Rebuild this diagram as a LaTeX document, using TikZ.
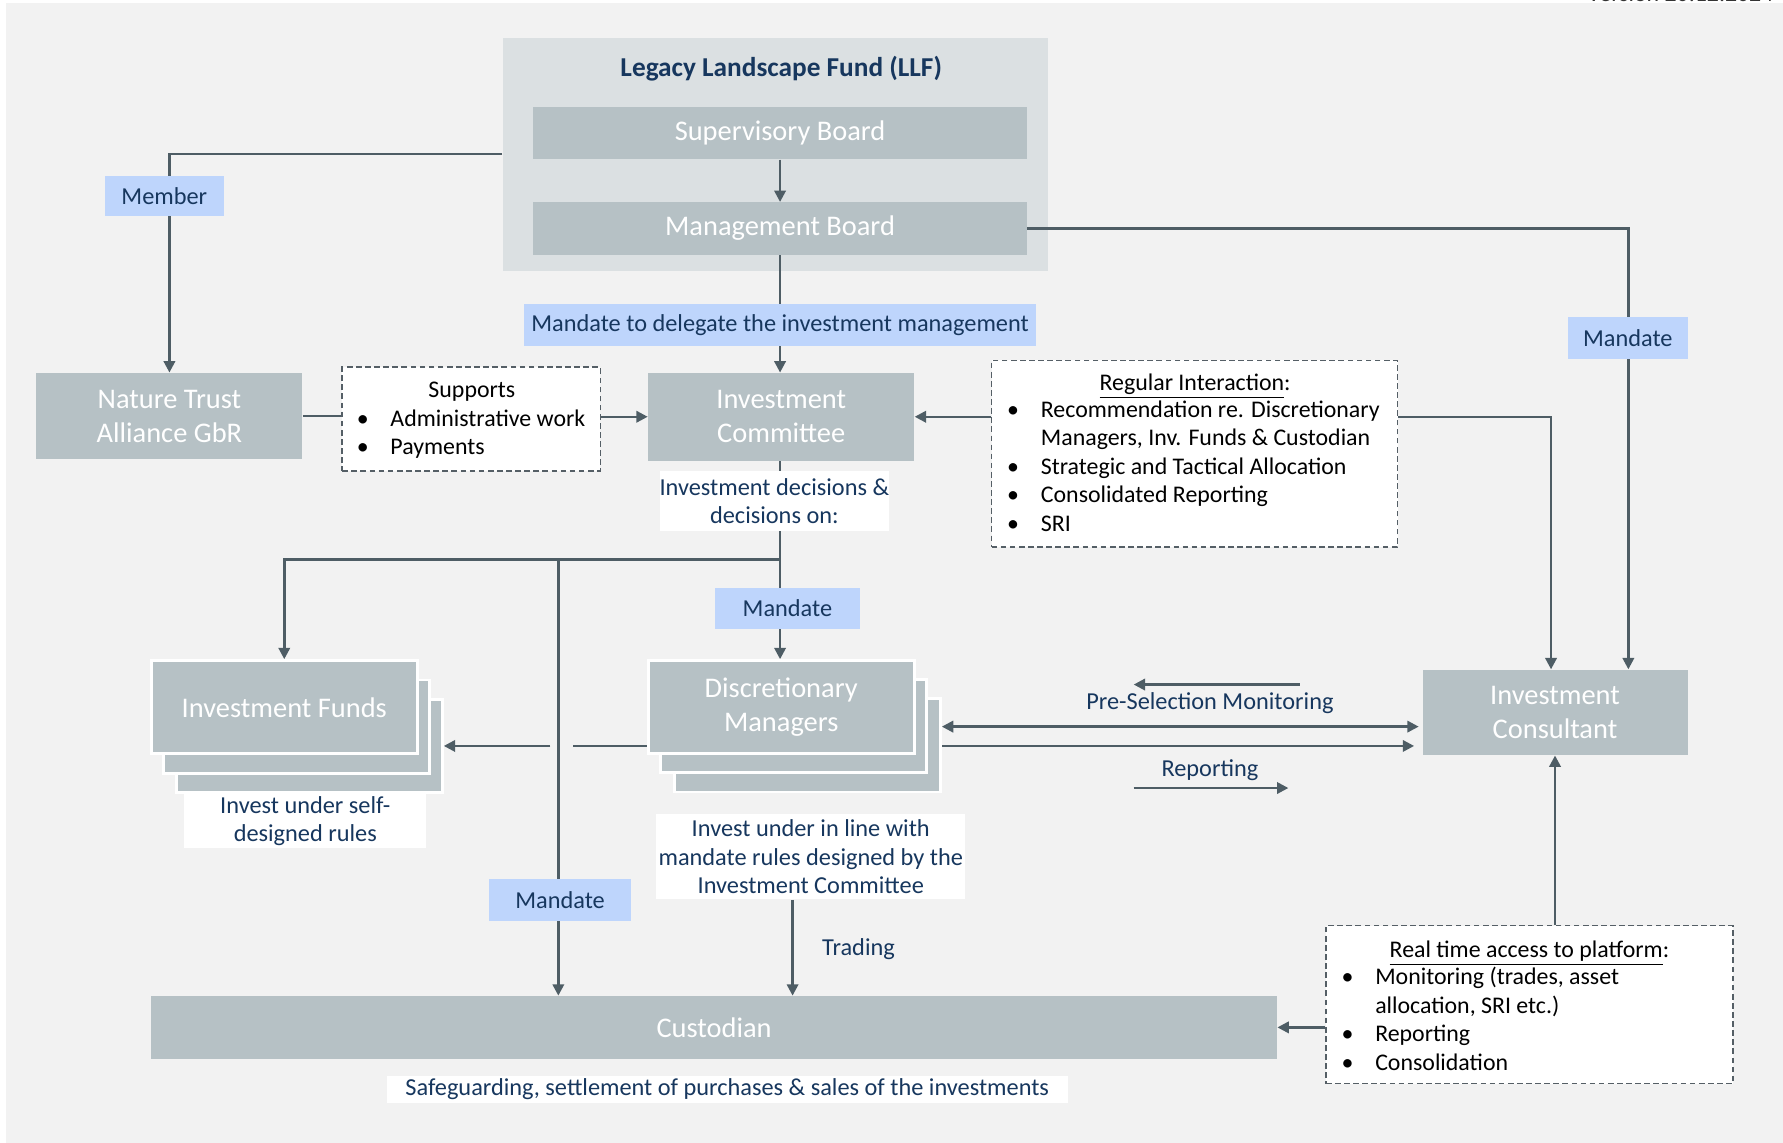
\documentclass[tikz,border=0pt]{standalone}
\usepackage{fontspec}
\setmainfont{Carlito}
\usetikzlibrary{arrows.meta,calc}
\definecolor{bgc}{HTML}{F2F2F2}
\definecolor{llfc}{HTML}{DBE0E2}
\definecolor{boxc}{HTML}{B6C1C5}
\definecolor{lblc}{HTML}{BED5FC}
\definecolor{txtc}{HTML}{17375E}
\definecolor{linec}{HTML}{4E5D65}
\definecolor{dashc}{HTML}{555F66}
\pgfdeclarelayer{bottom}
\pgfdeclarelayer{lines}
\pgfsetlayers{bottom,lines,main}
\tikzset{
  nbox/.style={fill=boxc, text=white, font=\fontsize{12.5}{15}\selectfont, align=center, inner sep=0pt},
  sbox/.style={nbox, draw=white, line width=1.3pt},
  lbl/.style={fill=lblc, text=txtc, font=\fontsize{10.7}{12.5}\selectfont, align=center, inner sep=0pt},
  wlbl/.style={fill=white, text=txtc, font=\fontsize{10.7}{12.5}\selectfont, align=center, inner sep=0pt},
  dbox/.style={fill=white, draw=dashc, dash pattern=on 2.5pt off 1.5pt, line width=0.7pt, inner sep=0pt},
  dtxt/.style={text=black, font=\fontsize{10.5}{12.5}\selectfont, inner sep=0pt, anchor=base west},
  dbul/.style={text=black, font=\fontsize{10.5}{12.5}\selectfont, inner sep=0pt, anchor=base},
  dttl/.style={text=black, font=\fontsize{10.5}{12.5}\selectfont, inner sep=0pt, anchor=base},
  conn/.style={draw=linec, line width=1.1pt},
  arr/.style={conn, -{Triangle[length=5pt,width=5pt]}},
  darr/.style={conn, {Triangle[length=5pt,width=5pt]}-{Triangle[length=5pt,width=5pt]}},
  btxt/.style={text=txtc, font=\fontsize{10.7}{12.5}\selectfont, inner sep=0pt}
}
\begin{document}
\begin{tikzpicture}[x=0.5pt,y=-0.5pt]
\useasboundingbox (0,0) rectangle (1568,1005);
\begin{pgfonlayer}{bottom}
\fill[white] (0,0) rectangle (1568,1005);
\fill[bgc] (5,3) rectangle (1568,1005);
\begin{scope}
\clip (0,0) rectangle (1568,1005);
\node[anchor=base east, text=black!80, font=\fontsize{10.5}{12.5}\selectfont, inner sep=0pt] (ver) at (1560,1) {Version 20.12.2024};
\end{scope}
\node[fill=llfc, minimum width=240pt, minimum height=102.5pt, inner sep=0pt] (llf) at (682,135.5) {};
\end{pgfonlayer}

% title
\node[text=txtc, font=\bfseries\fontsize{12}{14}\selectfont, inner sep=0pt] (ttl) at (687,60) {Legacy Landscape Fund (LLF)};

% main boxes
\node[nbox, minimum width=217pt, minimum height=23pt] (sb) at (686,117) {Supervisory Board};
\node[nbox, minimum width=217pt, minimum height=23pt] (mb) at (686,201) {Management Board};
\node[nbox, minimum width=117pt, minimum height=38pt] (nt) at (149,366) {Nature Trust\\Alliance GbR};
\node[nbox, minimum width=117pt, minimum height=38.5pt] (ic) at (687,366.5) {Investment\\Committee};
\node[nbox, minimum width=116.5pt, minimum height=37.5pt] (icons) at (1367.5,626.5) {Investment\\Consultant};
\node[nbox, minimum width=495pt, minimum height=27.5pt] (cust) at (628,903.5) {Custodian};

% stacked boxes: investment funds
\node[sbox, minimum width=117pt, minimum height=41pt] (if3) at (272,656) {};
\node[sbox, minimum width=117pt, minimum height=41pt] (if2) at (261,639) {};
\node[sbox, minimum width=117pt, minimum height=41pt] (if) at (250,622) {Investment Funds};
% stacked boxes: discretionary managers
\node[sbox, minimum width=117pt, minimum height=41pt] (dm3) at (710,655.5) {};
\node[sbox, minimum width=117pt, minimum height=41pt] (dm2) at (698,638.5) {};
\node[sbox, minimum width=117pt, minimum height=41pt] (dm) at (687,622) {Discretionary\\Managers};

% blue labels
\node[lbl, minimum width=52.5pt, minimum height=17.5pt] (member) at (144.5,172.5) {Member};
\node[lbl, minimum width=225pt, minimum height=18.5pt] (mdel) at (686,285.5) {Mandate to delegate the investment management};
\node[lbl, minimum width=52.5pt, minimum height=18.5pt] (mand1) at (1431.5,297.5) {Mandate};
\node[lbl, minimum width=63.5pt, minimum height=18pt] (mand2) at (692.5,535) {Mandate};
\node[lbl, minimum width=62.5pt, minimum height=18.5pt] (mand3) at (492.5,791.5) {Mandate};

% white labels
\node[wlbl, minimum width=99pt, minimum height=26.5pt] (idec) at (681,440.5) {Investment decisions \&\\decisions on:};
\node[wlbl, minimum width=106.5pt, minimum height=24pt] (selfr) at (268.5,722) {Invest under self-\\designed rules};
\node[wlbl, minimum width=136pt, minimum height=37.5pt] (inl) at (713,753.5) {Invest under in line with\\mandate rules designed by the\\Investment Committee};
\node[wlbl, minimum width=299.5pt, minimum height=12pt] (safe) at (639.5,958) {Safeguarding, settlement of purchases \& sales of the investments};

% dashed boxes
\node[dbox, minimum width=113.5pt, minimum height=45.5pt] (sup) at (414.5,368.5) {};
\node[dttl] (supt) at (415,350) {Supports};
\node[dbul] (supb1) at (319,375) {\textbullet};
\node[dtxt] (sup1) at (343,375) {Administrative work};
\node[dbul] (supb2) at (319,400) {\textbullet};
\node[dtxt] (sup2) at (343,400) {Payments};

\node[dbox, minimum width=178.5pt, minimum height=82pt] (reg) at (1050.5,399) {};
\node[dttl] (regt) at (1051,343) {\underline{Regular Interaction}:};
\node[dbul] (regb1) at (891,367) {\textbullet};
\node[dtxt] (reg1) at (915,367) {Recommendation re. Discretionary};
\node[dtxt] (reg2) at (915,392) {Managers, Inv. Funds \& Custodian};
\node[dbul] (regb3) at (891,417) {\textbullet};
\node[dtxt] (reg3) at (915,417) {Strategic and Tactical Allocation};
\node[dbul] (regb4) at (891,442) {\textbullet};
\node[dtxt] (reg4) at (915,442) {Consolidated Reporting};
\node[dbul] (regb5) at (891,467) {\textbullet};
\node[dtxt] (reg5) at (915,467) {SRI};

\node[dbox, minimum width=179pt, minimum height=69.5pt] (rt) at (1345,883.5) {};
\node[dttl] (rtt) at (1345,842) {\underline{Real time access to platform}:};
\node[dbul] (rtb1) at (1185,866) {\textbullet};
\node[dtxt] (rt1) at (1209,866) {Monitoring (trades, asset};
\node[dtxt] (rt2) at (1209,891) {allocation, SRI etc.)};
\node[dbul] (rtb3) at (1185,916) {\textbullet};
\node[dtxt] (rt3) at (1209,916) {Reporting};
\node[dbul] (rtb4) at (1185,941) {\textbullet};
\node[dtxt] (rt4) at (1209,941) {Consolidation};

% free text labels
\node[btxt] (psm) at (1064,618) {Pre-Selection Monitoring};
\node[btxt] (rep) at (1064,677) {Reporting};
\node[btxt] (trd) at (755,835) {Trading};

% helper coordinates
\coordinate (j) at (686,492);
\coordinate (j2) at (491,492);
\coordinate (y656) at (0,656);
\coordinate (y639) at (0,639);
\coordinate (g1) at (504,656);
\coordinate (g2) at (484,656);
\coordinate (ps1) at (1143,602);
\coordinate (ps2) at (997,602);
\coordinate (rp1) at (997,693);
\coordinate (rp2) at (1133,693);

\begin{pgfonlayer}{lines}
\draw[arr] (llf.west) -| (nt.north);
\draw[arr] (sb.south) -- (mb.north);
\draw[arr] (mb.south) -- (mb.south |- ic.north);
\draw[conn] (nt.east) -- (nt.east -| sup.west);
\draw[arr] (sup.east |- ic.west) -- (ic.west);
\draw[arr] (reg.west |- ic.east) -- (ic.east);
\draw[arr] (reg.east |- ic.east) -| ([xshift=-1.75pt]icons.north);
\draw[arr] (mb.east) -| ([xshift=32.25pt]icons.north);
\draw[conn] (ic.south -| j) -- (j);
\draw[arr] (j) -| (if.north);
\draw[arr] (j) -- (j |- dm.north);
\draw[arr] (j2) -- (j2 |- cust.north);
\draw[conn] (dm.west |- y656) -- (g1);
\draw[arr] (g2) -- (if3.east |- y656);
\draw[darr] (dm3.east |- y639) -- ([xshift=-1.5pt]icons.west |- y639);
\draw[arr] (dm3.east |- y656) -- ([xshift=-3.5pt]icons.west |- y656);
\draw[arr] (ps1) -- (ps2);
\draw[arr] (rp1) -- (rp2);
\draw[arr] (icons.south |- rt.north) -- (icons.south);
\draw[arr] (rt.west |- cust.east) -- (cust.east);
\draw[arr] ([xshift=-8pt]inl.south) -- ([xshift=-8pt]inl.south |- cust.north);
\end{pgfonlayer}
\end{tikzpicture}
\end{document}
